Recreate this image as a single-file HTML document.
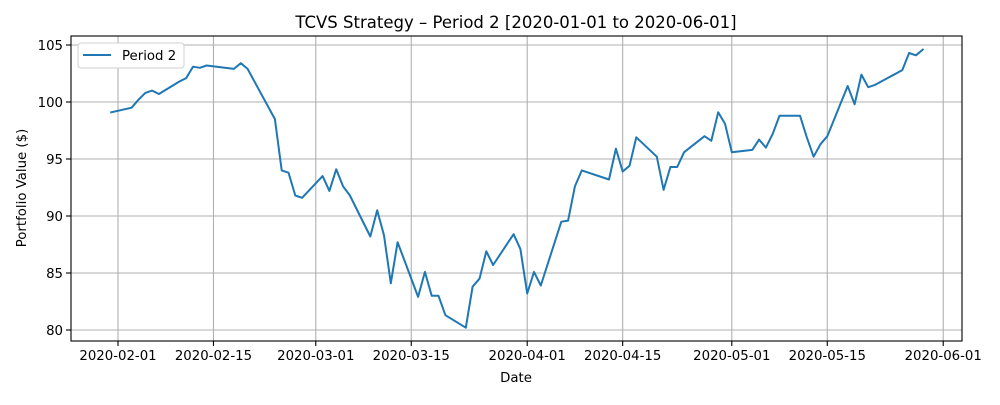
<!DOCTYPE html>
<html><head><meta charset="utf-8"><style>
body{margin:0;background:#fff;}
svg{font-family:"DejaVu Sans","Liberation Sans",sans-serif;}
</style></head><body>
<svg id="chart" width="1000" height="400"></svg>
<script>
const dayOffsets=[-1,2,3,4,5,6,9,10,11,12,13,17,18,19,23,24,25,26,27,30,31,32,33,34,37,38,39,40,41,44,45,46,47,48,51,52,53,54,55,58,59,60,61,62,65,66,67,68,72,73,74,75,76,79,80,81,82,83,86,87,88,89,90,93,94,95,96,97,100,101,102,103,104,107,108,109,110,111,115,116,117,118];
const values=[99.1,99.5,100.2,100.8,101.0,100.7,101.8,102.1,103.1,103.0,103.2,102.9,103.4,102.9,98.5,94.0,93.8,91.8,91.6,93.5,92.2,94.1,92.6,91.8,88.2,90.5,88.3,84.1,87.7,82.9,85.1,83.0,83.0,81.3,80.2,83.8,84.5,86.9,85.7,88.4,87.1,83.2,85.1,83.9,89.5,89.6,92.6,94.0,93.2,95.9,93.9,94.4,96.9,95.2,92.3,94.3,94.3,95.6,97.0,96.6,99.1,98.1,95.6,95.8,96.7,96.0,97.2,98.8,98.8,96.9,95.2,96.3,97.0,101.4,99.8,102.4,101.3,101.5,102.8,104.3,104.1,104.6];
const xTickDays=[0,14,29,43,60,74,90,104,121];
const xTickLabels=["2020-02-01","2020-02-15","2020-03-01","2020-03-15","2020-04-01","2020-04-15","2020-05-01","2020-05-15","2020-06-01"];
const yTicks=[80,85,90,95,100,105];

const svg=document.getElementById('chart');
const NS='http://www.w3.org/2000/svg';
const L=71,R=962,T=36,B=341;
const x=d=>118+d*6.82;
const y=v=>330-(v-80)*11.4;
function mk(tag,attrs,parent){const e=document.createElementNS(NS,tag);for(const k in attrs)e.setAttribute(k,attrs[k]);(parent||svg).appendChild(e);return e;}

const grid=mk('g',{});


xTickDays.forEach((d,i)=>{
  const gl=mk('line',{x1:x(d),x2:x(d),y1:T,y2:B,stroke:'#b0b0b0','stroke-width':1.1},grid);
  
  
  mk('line',{x1:x(d),x2:x(d),y1:B,y2:B+5,stroke:'#000','stroke-width':1.1});
  const t=mk('text',{x:x(d),y:B+19,'font-size':13.3,'text-anchor':'middle',fill:'#000'});
  t.textContent=xTickLabels[i];
  
  
});
yTicks.forEach(v=>{
  const gl=mk('line',{x1:L,x2:R,y1:y(v),y2:y(v),stroke:'#b0b0b0','stroke-width':1.1},grid);
  
  
  mk('line',{x1:L-5,x2:L,y1:y(v),y2:y(v),stroke:'#000','stroke-width':1.1});
  const t=mk('text',{x:L-8,y:y(v)+5,'font-size':13.3,'text-anchor':'end',fill:'#000'});
  t.textContent=v;
  
  
});
const frame=mk('rect',{x:L,y:T,width:R-L,height:B-T,fill:'none',stroke:'#000','stroke-width':1.1});



const pts=dayOffsets.map((d,i)=>x(d).toFixed(1)+','+y(values[i]).toFixed(1)).join(' ');
const line=mk('polyline',{points:pts,fill:'none',stroke:'#1f77b4','stroke-width':2,'stroke-linejoin':'round','stroke-linecap':'square'});



const title=mk('text',{x:516,y:28,'font-size':16.5,'text-anchor':'middle',fill:'#000'});
title.textContent='TCVS Strategy – Period 2 [2020-01-01 to 2020-06-01]';


const xt=mk('text',{x:516,y:382,'font-size':13.3,'text-anchor':'middle',fill:'#000'});
xt.textContent='Date';


const yt=mk('text',{x:0,y:0,'font-size':13.3,'text-anchor':'middle',fill:'#000',transform:'translate(26,188) rotate(-90)'});
yt.textContent='Portfolio Value ($)';



const leg=mk('g',{});


mk('rect',{x:78,y:43,width:106,height:25,rx:3,fill:'#fff',stroke:'#d0d0d0'},leg);
mk('line',{x1:83,x2:111,y1:55,y2:55,stroke:'#1f77b4','stroke-width':2},leg);
const lt=mk('text',{x:122,y:60,'font-size':13.3,fill:'#000'},leg);
lt.textContent='Period 2';


</script>
</body></html>
